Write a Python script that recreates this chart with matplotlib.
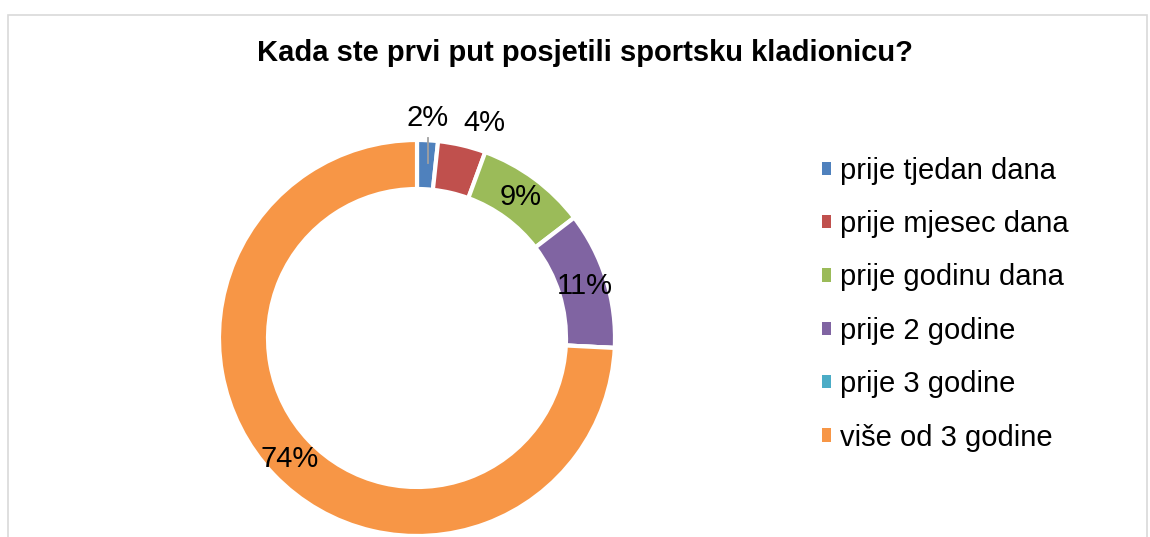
import numpy as np
import matplotlib.pyplot as plt
from matplotlib.patches import Rectangle, Patch

categories = ['prije tjedan dana', 'prije mjesec dana', 'prije godinu dana',
              'prije 2 godine', 'prije 3 godine', 'više od 3 godine']
values = [1.7, 3.9, 9.0, 11.2, 0.0, 74.2]
pct_labels = ['2%', '4%', '9%', '11%', '', '74%']
colors = ['#4F81BD', '#C0504D', '#9BBB59', '#8064A2', '#4BACC6', '#F79646']

plt.rcParams['font.family'] = ['Liberation Sans', 'DejaVu Sans']

W, H = 1150, 537
fig = plt.figure(figsize=(W / 100, H / 100), dpi=100)
ax = fig.add_axes([0, 0, 1, 1])

cx, cy = 417, H - 338
R, ring = 198, 49
wedges, _ = ax.pie(values, center=(cx, cy), radius=R, startangle=90,
                   counterclock=False, colors=colors,
                   wedgeprops=dict(width=ring, edgecolor='white', linewidth=3))

# data labels
total = sum(values)
cum = 0
for i, (v, lab) in enumerate(zip(values, pct_labels)):
    mid = np.deg2rad(90 - 360 * (cum + v / 2) / total)
    cum += v
    if not lab:
        continue
    if i == 0:
        # tiny slice: label above with a leader line
        x0 = cx + R * np.cos(mid)
        ax.plot([x0, x0], [cy + R * np.sin(mid) + 2, cy + R * np.sin(mid) - 23],
                color='#A0A0A0', lw=1.3)
        ax.text(x0, cy + R + 22, lab, ha='center', va='center', fontsize=21)
    elif v < 5:
        ax.text(cx + (R + 8) * np.cos(mid), cy + (R + 8) * np.sin(mid), lab,
                ha='left', va='bottom', fontsize=21)
    else:
        r = R - ring / 2 + 2
        ax.text(cx + r * np.cos(mid), cy + r * np.sin(mid), lab, ha='center',
                va='center', fontsize=21)

# chart frame
ax.add_patch(Rectangle((8, -10), 1139, H - 15 + 10, fill=False,
                       edgecolor='#D9D9D9', lw=1.2, clip_on=False))

ax.text(585, H - 53, 'Kada ste prvi put posjetili sportsku kladionicu?',
        ha='center', va='center', fontsize=21, fontweight='bold')

handles = [Patch(facecolor=c, edgecolor='none') for c in colors]
ax.legend(handles, categories, loc='upper left', bbox_to_anchor=(810 / W, 1 - 145 / H),
          frameon=False, fontsize=21, handlelength=0.32, handleheight=0.32,
          handletextpad=0.3, labelspacing=0.87, borderaxespad=0)

ax.set_xlim(0, W)
ax.set_ylim(0, H)
ax.set_aspect('equal')
ax.axis('off')

fig.savefig('out.png', dpi=100)
